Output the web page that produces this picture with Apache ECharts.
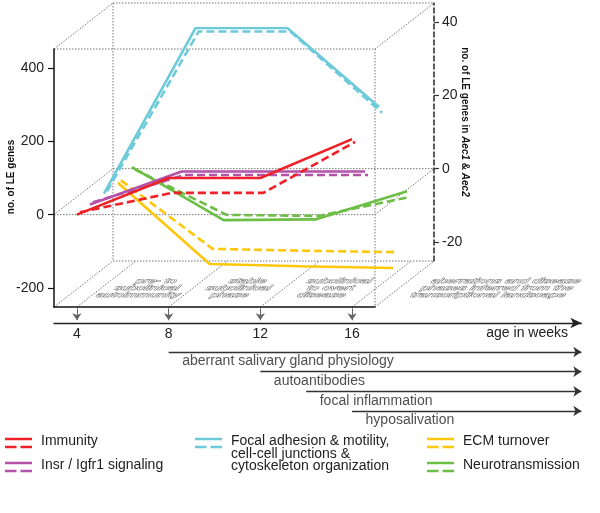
<!DOCTYPE html>
<html><head><meta charset="utf-8">
<script src="https://cdn.jsdelivr.net/npm/echarts@6/dist/echarts.min.js"></script>
<style>html,body{margin:0;padding:0;background:#fff}#c{width:600px;height:513px}</style>
</head><body><div id="c"></div>
<script>
// ---------------- data ----------------
const WEEKS = [4, 8, 12, 16];
const IMMUNITY_ALL = [0, 100, 100, 206];
const IMMUNITY_AEC = [0, 5.3, 5.3, 19.2];
const INSR_ALL = [0, 90, 90, 90];
const INSR_AEC = [0, 7.4, 7.4, 7.4];
const FOCAL_ALL = [0, 452, 452, 236];
const FOCAL_AEC = [0, 43.6, 43.6, 21.4];
const ECM_ALL = [0, -222, -228, -233];
const ECM_AEC = [0, -18.7, -19.2, -19.6];
const NEURO_ALL = [13, -132, -130, -53];
const NEURO_AEC = [0, -12.4, -12.7, -7.5];
const LEFT_TICKS = [-200, 0, 200, 400];
const RIGHT_TICKS = [-20, 0, 20, 40];
const AGE_TICKS = [4, 8, 12, 16];
const PHASE_NAMES = ['aberrant salivary gland physiology', 'autoantibodies', 'focal inflammation', 'hyposalivation'];
const PHASE_ONSETS = [8, 12, 14, 16];
const FLOOR_LABELS = [
  ['pre- to', 'subclinical', 'autoimmunity'],
  ['stable', 'subclinical', 'phase'],
  ['subclinical', 'to overt', 'disease'],
  ['aberrations and disease', 'phases inferred from the', 'transcriptional landscape']
];
const LEGEND_LABELS = ['Immunity', 'Insr / Igfr1 signaling', 'Focal adhesion & motility,\ncell-cell junctions &\ncytoskeleton organization', 'ECM turnover', 'Neurotransmission'];

// ---------------- layout / style ----------------
const FONT = '"Liberation Sans", Arial, Helvetica, sans-serif';
const L = {x0: 54, y0: 49, w: 321, h: 258, dx: 59, dy: -46};
const X_RANGE = [3, 17];
const Y_ALL = [-252, 452];
const Y_AEC = [-25.2, 45.2];
const TL_MAX = 26;
const kx = L.w / (X_RANGE[1] - X_RANGE[0]);
const ky = L.h / (Y_ALL[1] - Y_ALL[0]);
const DASH = [8, 4];
const DASH_SHIFT = 3;
// categories drawn back to front
const CATS = [
  {color: '#6CBE45', depth: 55, all: NEURO_ALL, aec: NEURO_AEC},
  {color: '#FDC70C', depth: 41, all: ECM_ALL, aec: ECM_AEC},
  {color: '#6CCADA', depth: 27, all: FOCAL_ALL, aec: FOCAL_AEC},
  {color: '#B352A8', depth: 13, all: INSR_ALL, aec: INSR_AEC},
  {color: '#EE2128', depth: 0, all: IMMUNITY_ALL, aec: IMMUNITY_AEC}
];
const LEGEND_COLORS = ['#EE2128', '#B352A8', '#6CCADA', '#FDC70C', '#6CBE45'];

function P(w, v, d) {
  return [L.x0 + (w - X_RANGE[0]) * kx + d * L.dx, L.y0 + (Y_ALL[1] - v) * ky + d * L.dy];
}
function gridAt(dxPix) {
  return {left: L.x0 + dxPix, top: L.y0 + dxPix * L.dy / L.dx, width: L.w, height: L.h,
          containLabel: false, outerBoundsMode: 'none'};
}
const hiddenX = (extra) => Object.assign({type: 'value', min: X_RANGE[0], max: X_RANGE[1], show: false}, extra || {});

const grids = [], xAxes = [], yAxes = [], series = [];
// grid 0: front face with left axis
grids.push(gridAt(0));
xAxes.push({type: 'value', gridIndex: 0, min: X_RANGE[0], max: X_RANGE[1],
  axisLine: {show: true, onZero: false, lineStyle: {color: '#111', width: 1.5}},
  axisTick: {show: false}, axisLabel: {show: false}, splitLine: {show: false}});
yAxes.push({type: 'value', gridIndex: 0, min: Y_ALL[0], max: Y_ALL[1],
  axisLine: {show: true, lineStyle: {color: '#111', width: 1.5}},
  axisTick: {show: true, length: 6, customValues: LEFT_TICKS, lineStyle: {color: '#111', width: 1.2}},
  axisLabel: {customValues: LEFT_TICKS, margin: 10, fontSize: 14, color: '#222', fontFamily: FONT},
  splitLine: {show: false}});
// grid 1: back face with right axis
grids.push(gridAt(L.dx));
xAxes.push(hiddenX({gridIndex: 1}));
yAxes.push({type: 'value', gridIndex: 1, position: 'right', min: Y_AEC[0], max: Y_AEC[1],
  axisLine: {show: true, lineStyle: {color: '#333', width: 1.6, type: [5, 3]}},
  axisTick: {show: true, length: 5, customValues: RIGHT_TICKS, lineStyle: {color: '#333', width: 1.2}},
  axisLabel: {customValues: RIGHT_TICKS, margin: 8, fontSize: 14, color: '#222', fontFamily: FONT},
  splitLine: {show: false}});

function addLine(dxPix, yRange, values, color, dashed) {
  const gi = grids.length;
  grids.push(gridAt(dxPix));
  xAxes.push(hiddenX({gridIndex: gi}));
  yAxes.push({type: 'value', gridIndex: gi, min: yRange[0], max: yRange[1], show: false});
  series.push({type: 'line', xAxisIndex: gi, yAxisIndex: gi, symbol: 'none', silent: true,
    data: WEEKS.map((w, i) => [w, values[i]]),
    lineStyle: {color: color, width: 2.6, type: dashed ? DASH : 'solid', cap: 'butt'}});
}
CATS.forEach(c => {
  addLine(c.depth + DASH_SHIFT, Y_AEC, c.aec, c.color, true);
  addLine(c.depth, Y_ALL, c.all, c.color, false);
});

// timeline grid
const tlIdx = grids.length;
grids.push({left: L.x0, top: 300, width: (TL_MAX - X_RANGE[0]) * kx, height: 23, containLabel: false, outerBoundsMode: 'none'});
xAxes.push({type: 'value', gridIndex: tlIdx, min: X_RANGE[0], max: TL_MAX,
  axisLine: {show: true, onZero: false, symbol: ['none', 'arrow'], symbolSize: [8, 11], lineStyle: {color: '#222', width: 1.3}},
  axisTick: {show: false}, splitLine: {show: false},
  axisLabel: {customValues: AGE_TICKS, margin: 4, fontSize: 14, color: '#222', fontFamily: FONT}});
yAxes.push({type: 'value', gridIndex: tlIdx, min: 0, max: 1, show: false});
series.push({type: 'lines', coordinateSystem: 'cartesian2d', xAxisIndex: tlIdx, yAxisIndex: tlIdx, silent: true,
  symbol: ['none', 'arrow'], symbolSize: 7,
  lineStyle: {color: '#666', width: 1, opacity: 1, curveness: 0},
  data: AGE_TICKS.map(w => ({coords: [[w, 0.64], [w, 0.12]]}))});

// phases grid
const phIdx = grids.length;
const rowH = 19.67;
grids.push({left: L.x0, top: 352 - rowH / 2, width: (TL_MAX - X_RANGE[0]) * kx, height: rowH * PHASE_NAMES.length, containLabel: false, outerBoundsMode: 'none'});
xAxes.push({type: 'value', gridIndex: phIdx, min: X_RANGE[0], max: TL_MAX, show: false});
yAxes.push({type: 'category', gridIndex: phIdx, data: PHASE_NAMES, inverse: true, show: false});
series.push({type: 'lines', coordinateSystem: 'cartesian2d', xAxisIndex: phIdx, yAxisIndex: phIdx, silent: true,
  symbol: ['none', 'arrow'], symbolSize: 8,
  lineStyle: {color: '#333', width: 1.3, opacity: 1, curveness: 0},
  data: PHASE_NAMES.map((n, i) => ({coords: [[PHASE_ONSETS[i], n], [TL_MAX, n]]}))});
series.push({type: 'scatter', xAxisIndex: phIdx, yAxisIndex: phIdx, silent: true, symbolSize: 1,
  itemStyle: {color: 'transparent'},
  label: {show: true, position: [14, 3], align: 'left', verticalAlign: 'top', fontSize: 14, color: '#222', fontFamily: FONT,
          formatter: p => PHASE_NAMES[p.dataIndex]},
  data: PHASE_NAMES.map((n, i) => [PHASE_ONSETS[i], n])});

// ---------------- graphic: box, titles, floor text, legend ----------------
const G = [];
const dotted = {stroke: '#777', lineWidth: 1, lineDash: [1.5, 1.5]};
function seg(a, b, style) {
  G.push({type: 'line', z: 0, silent: true, shape: {x1: a[0], y1: a[1], x2: b[0], y2: b[1]}, style: style || dotted});
}
const XL = X_RANGE[0], XR = X_RANGE[1], YT = Y_ALL[1], YB = Y_ALL[0];
seg(P(XL, YT, 0), P(XR, YT, 0));
seg(P(XR, YT, 0), P(XR, YB, 0));
seg(P(XL, YT, 1), P(XR, YT, 1));
seg(P(XL, YT, 1), P(XL, YB, 1));
seg(P(XL, YB, 1), P(XR, YB, 1));
[[XL, YT], [XR, YT], [XL, YB], [XR, YB], [XL, 0], [XR, 0]].forEach(c => seg(P(c[0], c[1], 0), P(c[0], c[1], 1)));
seg(P(XL, 0, 0), P(XR, 0, 0));
seg(P(XL, 0, 1), P(XR, 0, 1));
AGE_TICKS.forEach(w => seg(P(w, YB, 0), P(w, YB, 1)));

function txt(o) {
  const st = Object.assign({fontFamily: FONT, fontSize: 14, fill: '#222'}, o.style);
  if (st.align) { st.textAlign = st.align; }
  if (st.verticalAlign) { st.textVerticalAlign = st.verticalAlign; }
  G.push(Object.assign({type: 'text', z: 5, silent: true}, o, {style: st}));
}
// floor labels (perspective: squashed & sheared)
const floorFrontCenters = [6, 10, 14, 21.27].map(w => P(w, YB, 0)[0]);
const floorFrontY = P(XL, YB, 0)[1];
FLOOR_LABELS.forEach((lines, b) => {
  lines.forEach((t, i) => {
    const y = 281 + 7 * i;
    const x = floorFrontCenters[b] + (floorFrontY - y) * (L.dx / -L.dy);
    txt({x: x, y: y, scaleY: 0.5, skewX: -0.5, style: {text: t, fontStyle: 'italic', fontSize: 14, fill: '#fff', stroke: '#444', lineWidth: 1.1,
      align: 'center', verticalAlign: 'middle'}});
  });
});
// axis titles
txt({x: 11, y: 177, rotation: Math.PI / 2, style: {text: 'no. of LE genes', fontSize: 10, fontWeight: 'bold', fill: '#111', align: 'center', verticalAlign: 'middle'}});
txt({x: 465, y: 122, rotation: -Math.PI / 2, style: {text: 'no. of LE genes in {i|Aec1} & {i|Aec2}', fontSize: 10, fontWeight: 'bold', fill: '#111',
  align: 'center', verticalAlign: 'middle',
  rich: {i: {fontStyle: 'italic', fontWeight: 'bold', fontSize: 10, fontFamily: FONT, fill: '#111'}}}});
// age in weeks
txt({x: 568, y: 333, style: {text: 'age in weeks', align: 'right', verticalAlign: 'middle'}});
// legend
const LEG_POS = [[5, 443], [5, 467], [195, 443], [427, 443], [427, 467]];
LEGEND_LABELS.forEach((lab, i) => {
  const [x, y] = LEG_POS[i];
  const c = LEGEND_COLORS[i];
  seg([x, y - 4], [x + 27, y - 4], {stroke: c, lineWidth: 2.5});
  seg([x, y + 4], [x + 27, y + 4], {stroke: c, lineWidth: 2.5, lineDash: [11.5, 4]});
  txt({x: x + 36, y: y - 8, style: {text: lab, align: 'left', verticalAlign: 'top', lineHeight: 12.5, fontSize: 14}});
});

const chart = echarts.init(document.getElementById('c'), null, {renderer: 'canvas'});
chart.setOption({
  animation: false,
  backgroundColor: '#fff',
  textStyle: {fontFamily: FONT},
  grid: grids, xAxis: xAxes, yAxis: yAxes, series: series,
  graphic: {elements: G}
});
</script></body></html>
